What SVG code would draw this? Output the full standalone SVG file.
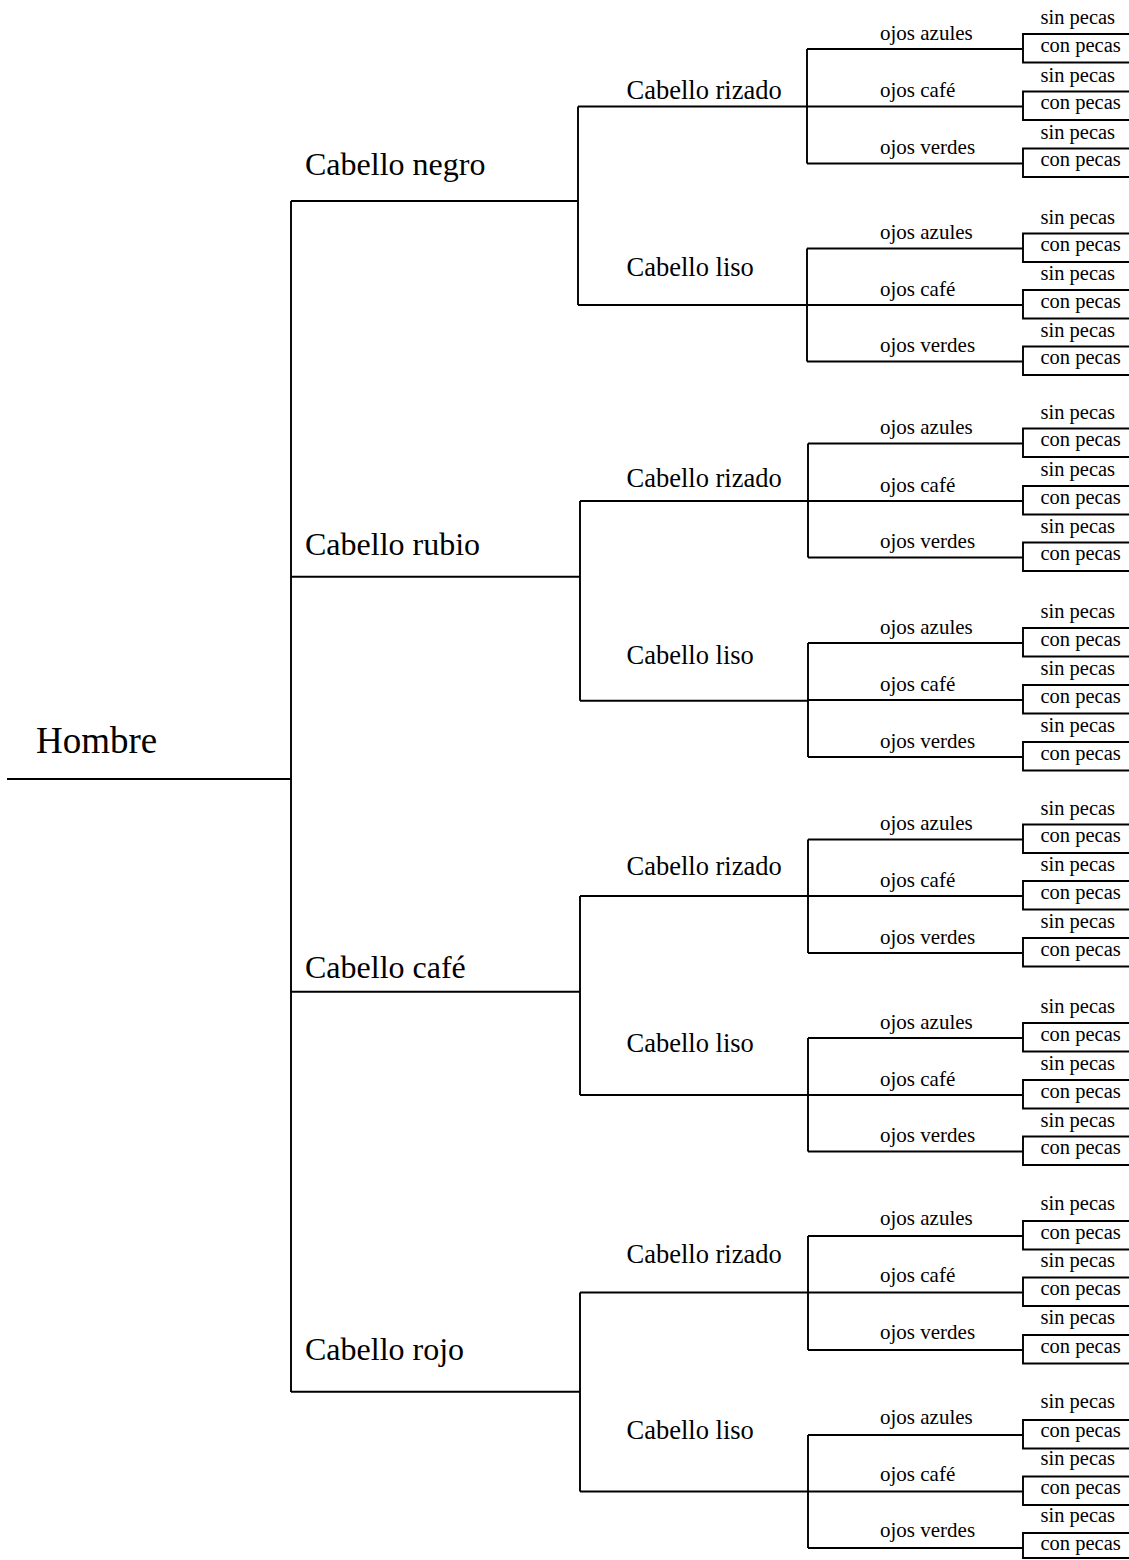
<svg xmlns="http://www.w3.org/2000/svg" width="1129" height="1560" viewBox="0 0 1129 1560">
<style>
.l{stroke:#000;stroke-width:1.9;fill:none}
text{font-family:"Liberation Serif","Times New Roman",serif;fill:#000}
.h0{font-size:37px}.h1{font-size:32px}.h2{font-size:26.5px}.h3{font-size:21px}.h4{font-size:20.5px}
</style>
<rect width="1129" height="1560" fill="#fff"/>
<g id="connectors" class="l">
<path d="M7,779 H291 M291,201 V1392"/>
<path d="M291,201 H578 M578,106.5 V305 M578,106.5 H807 M578,305 H807"/>
<path d="M291,576.7 H580 M580,501 V700.7 M580,501 H808 M580,700.7 H808"/>
<path d="M291,991.7 H580 M580,896 V1095 M580,896 H808 M580,1095 H808"/>
<path d="M291,1391.7 H580 M580,1292.5 V1491.5 M580,1292.5 H808 M580,1491.5 H808"/>
<path d="M807,49 V163.5 M807,49 H1023 M807,106.5 H1023 M807,163.5 H1023"/>
<path d="M807,248.5 V361.5 M807,248.5 H1023 M807,305 H1023 M807,361.5 H1023"/>
<path d="M808,443.5 V557.5 M808,443.5 H1023 M808,501 H1023 M808,557.5 H1023"/>
<path d="M808,643 V757 M808,643 H1023 M808,700 H1023 M808,757 H1023"/>
<path d="M808,839.5 V953 M808,839.5 H1023 M808,896 H1023 M808,953 H1023"/>
<path d="M808,1038 V1151.5 M808,1038 H1023 M808,1095 H1023 M808,1151.5 H1023"/>
<path d="M808,1236 V1350 M808,1236 H1023 M808,1292.5 H1023 M808,1350 H1023"/>
<path d="M808,1435 V1548 M808,1435 H1023 M808,1491.5 H1023 M808,1548 H1023"/>
<path d="M1129,34 H1023 V62.5 H1129 M1129,91.5 H1023 V120 H1129 M1129,148.5 H1023 V177 H1129"/>
<path d="M1129,233.5 H1023 V262 H1129 M1129,290 H1023 V318.5 H1129 M1129,346.5 H1023 V375 H1129"/>
<path d="M1129,428.5 H1023 V457 H1129 M1129,486 H1023 V514.5 H1129 M1129,542.5 H1023 V571 H1129"/>
<path d="M1129,628 H1023 V656.5 H1129 M1129,685 H1023 V713.5 H1129 M1129,742 H1023 V770.5 H1129"/>
<path d="M1129,824.5 H1023 V853 H1129 M1129,881 H1023 V909.5 H1129 M1129,938 H1023 V966.5 H1129"/>
<path d="M1129,1023 H1023 V1051.5 H1129 M1129,1080 H1023 V1108.5 H1129 M1129,1136.5 H1023 V1165 H1129"/>
<path d="M1129,1221 H1023 V1249.5 H1129 M1129,1277.5 H1023 V1306 H1129 M1129,1335 H1023 V1363.5 H1129"/>
<path d="M1129,1420 H1023 V1448.5 H1129 M1129,1476.5 H1023 V1505 H1129 M1129,1533 H1023 V1558 H1129"/>
</g>
<g id="hombre"><text class="h0" x="36" y="753">Hombre</text></g>
<g id="negro"><text class="h1" x="305" y="175">Cabello negro</text></g>
<g id="rubio"><text class="h1" x="305" y="555">Cabello rubio</text></g>
<g id="cafe"><text class="h1" x="305" y="978">Cabello café</text></g>
<g id="rojo"><text class="h1" x="305" y="1360">Cabello rojo</text></g>
<g id="negro-rizado"><text class="h2" x="626.5" y="99">Cabello rizado</text></g>
<g id="negro-liso"><text class="h2" x="626.5" y="276">Cabello liso</text></g>
<g id="rubio-rizado"><text class="h2" x="626.5" y="487">Cabello rizado</text></g>
<g id="rubio-liso"><text class="h2" x="626.5" y="664">Cabello liso</text></g>
<g id="cafe-rizado"><text class="h2" x="626.5" y="875">Cabello rizado</text></g>
<g id="cafe-liso"><text class="h2" x="626.5" y="1052">Cabello liso</text></g>
<g id="rojo-rizado"><text class="h2" x="626.5" y="1263">Cabello rizado</text></g>
<g id="rojo-liso"><text class="h2" x="626.5" y="1439">Cabello liso</text></g>
<g id="ojos" class="h3">
<g id="nr-az"><text class="h3" x="880" y="39.5">ojos azules</text></g>
<g id="nr-ca"><text class="h3" x="880" y="97">ojos café</text></g>
<g id="nr-ve"><text class="h3" x="880" y="154">ojos verdes</text></g>
<g id="nl-az"><text class="h3" x="880" y="239">ojos azules</text></g>
<g id="nl-ca"><text class="h3" x="880" y="295.5">ojos café</text></g>
<g id="nl-ve"><text class="h3" x="880" y="352">ojos verdes</text></g>
<g id="rr-az"><text class="h3" x="880" y="434">ojos azules</text></g>
<g id="rr-ca"><text class="h3" x="880" y="491.5">ojos café</text></g>
<g id="rr-ve"><text class="h3" x="880" y="548">ojos verdes</text></g>
<g id="rl-az"><text class="h3" x="880" y="633.5">ojos azules</text></g>
<g id="rl-ca"><text class="h3" x="880" y="690.5">ojos café</text></g>
<g id="rl-ve"><text class="h3" x="880" y="747.5">ojos verdes</text></g>
<g id="cr-az"><text class="h3" x="880" y="830">ojos azules</text></g>
<g id="cr-ca"><text class="h3" x="880" y="886.5">ojos café</text></g>
<g id="cr-ve"><text class="h3" x="880" y="943.5">ojos verdes</text></g>
<g id="cl-az"><text class="h3" x="880" y="1028.5">ojos azules</text></g>
<g id="cl-ca"><text class="h3" x="880" y="1085.5">ojos café</text></g>
<g id="cl-ve"><text class="h3" x="880" y="1142">ojos verdes</text></g>
<g id="jr-az"><text class="h3" x="880" y="1225">ojos azules</text></g>
<g id="jr-ca"><text class="h3" x="880" y="1281.5">ojos café</text></g>
<g id="jr-ve"><text class="h3" x="880" y="1339">ojos verdes</text></g>
<g id="jl-az"><text class="h3" x="880" y="1424">ojos azules</text></g>
<g id="jl-ca"><text class="h3" x="880" y="1480.5">ojos café</text></g>
<g id="jl-ve"><text class="h3" x="880" y="1537">ojos verdes</text></g>
</g>
<g id="pecas">
<g id="nr-az-sin"><text class="h4" x="1040.5" y="24">sin pecas</text></g><g id="nr-az-con"><text class="h4" x="1040.5" y="51.5">con pecas</text></g>
<g id="nr-ca-sin"><text class="h4" x="1040.5" y="81.5">sin pecas</text></g><g id="nr-ca-con"><text class="h4" x="1040.5" y="109">con pecas</text></g>
<g id="nr-ve-sin"><text class="h4" x="1040.5" y="138.5">sin pecas</text></g><g id="nr-ve-con"><text class="h4" x="1040.5" y="166">con pecas</text></g>
<g id="nl-az-sin"><text class="h4" x="1040.5" y="223.5">sin pecas</text></g><g id="nl-az-con"><text class="h4" x="1040.5" y="251">con pecas</text></g>
<g id="nl-ca-sin"><text class="h4" x="1040.5" y="280">sin pecas</text></g><g id="nl-ca-con"><text class="h4" x="1040.5" y="307.5">con pecas</text></g>
<g id="nl-ve-sin"><text class="h4" x="1040.5" y="336.5">sin pecas</text></g><g id="nl-ve-con"><text class="h4" x="1040.5" y="364">con pecas</text></g>
<g id="rr-az-sin"><text class="h4" x="1040.5" y="418.5">sin pecas</text></g><g id="rr-az-con"><text class="h4" x="1040.5" y="446">con pecas</text></g>
<g id="rr-ca-sin"><text class="h4" x="1040.5" y="476">sin pecas</text></g><g id="rr-ca-con"><text class="h4" x="1040.5" y="503.5">con pecas</text></g>
<g id="rr-ve-sin"><text class="h4" x="1040.5" y="532.5">sin pecas</text></g><g id="rr-ve-con"><text class="h4" x="1040.5" y="560">con pecas</text></g>
<g id="rl-az-sin"><text class="h4" x="1040.5" y="618">sin pecas</text></g><g id="rl-az-con"><text class="h4" x="1040.5" y="645.5">con pecas</text></g>
<g id="rl-ca-sin"><text class="h4" x="1040.5" y="675">sin pecas</text></g><g id="rl-ca-con"><text class="h4" x="1040.5" y="702.5">con pecas</text></g>
<g id="rl-ve-sin"><text class="h4" x="1040.5" y="732">sin pecas</text></g><g id="rl-ve-con"><text class="h4" x="1040.5" y="759.5">con pecas</text></g>
<g id="cr-az-sin"><text class="h4" x="1040.5" y="814.5">sin pecas</text></g><g id="cr-az-con"><text class="h4" x="1040.5" y="842">con pecas</text></g>
<g id="cr-ca-sin"><text class="h4" x="1040.5" y="871">sin pecas</text></g><g id="cr-ca-con"><text class="h4" x="1040.5" y="898.5">con pecas</text></g>
<g id="cr-ve-sin"><text class="h4" x="1040.5" y="928">sin pecas</text></g><g id="cr-ve-con"><text class="h4" x="1040.5" y="955.5">con pecas</text></g>
<g id="cl-az-sin"><text class="h4" x="1040.5" y="1013">sin pecas</text></g><g id="cl-az-con"><text class="h4" x="1040.5" y="1040.5">con pecas</text></g>
<g id="cl-ca-sin"><text class="h4" x="1040.5" y="1070">sin pecas</text></g><g id="cl-ca-con"><text class="h4" x="1040.5" y="1097.5">con pecas</text></g>
<g id="cl-ve-sin"><text class="h4" x="1040.5" y="1126.5">sin pecas</text></g><g id="cl-ve-con"><text class="h4" x="1040.5" y="1154">con pecas</text></g>
<g id="jr-az-sin"><text class="h4" x="1040.5" y="1210">sin pecas</text></g><g id="jr-az-con"><text class="h4" x="1040.5" y="1238.5">con pecas</text></g>
<g id="jr-ca-sin"><text class="h4" x="1040.5" y="1266.5">sin pecas</text></g><g id="jr-ca-con"><text class="h4" x="1040.5" y="1295">con pecas</text></g>
<g id="jr-ve-sin"><text class="h4" x="1040.5" y="1324">sin pecas</text></g><g id="jr-ve-con"><text class="h4" x="1040.5" y="1352.5">con pecas</text></g>
<g id="jl-az-sin"><text class="h4" x="1040.5" y="1408">sin pecas</text></g><g id="jl-az-con"><text class="h4" x="1040.5" y="1437">con pecas</text></g>
<g id="jl-ca-sin"><text class="h4" x="1040.5" y="1465">sin pecas</text></g><g id="jl-ca-con"><text class="h4" x="1040.5" y="1493.5">con pecas</text></g>
<g id="jl-ve-sin"><text class="h4" x="1040.5" y="1521.5">sin pecas</text></g><g id="jl-ve-con"><text class="h4" x="1040.5" y="1550">con pecas</text></g>
</g>
</svg>
